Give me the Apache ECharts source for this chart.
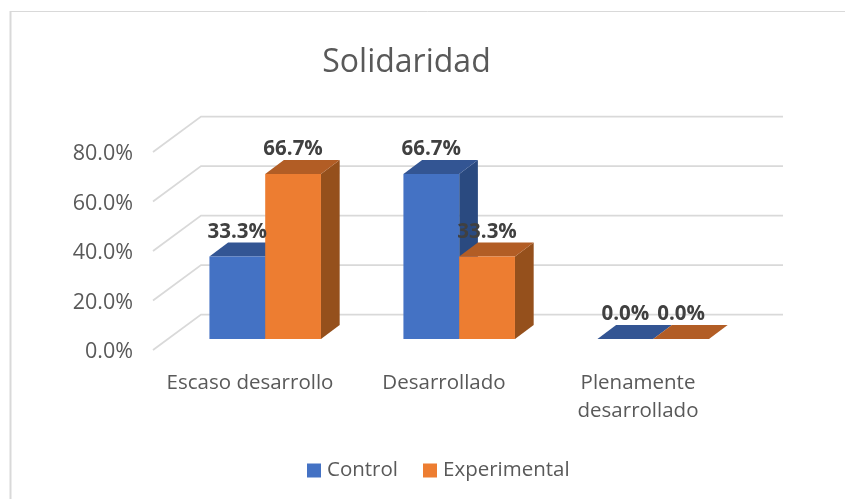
<!DOCTYPE html>
<html>
<head>
<meta charset="utf-8">
<style>html,body{margin:0;padding:0;background:#fff}#c{width:845px;height:499px}</style>
<script src="https://cdn.jsdelivr.net/npm/echarts@6/dist/echarts.min.js"></script>
</head>
<body>
<div id="c"></div>
<script>
const categories = ['Escaso desarrollo', 'Desarrollado', 'Plenamente\ndesarrollado'];
const control = [33.3, 66.7, 0.0];
const experimental = [66.7, 33.3, 0.0];
const ticks = [0, 20, 40, 60, 80];

const FONT = '"Open Sans", sans-serif';
const WALL = [48, -35.5];      // depth of the floor, front edge to back wall
const BAR_FRONT = [15.2, -11]; // bar front face offset from the axis plane
const BAR_DEPTH = [18.7, -14];
const BAR_SHARE = 0.2875;

function barRenderer(side, faces) {
  return function (params, api) {
    const i = api.value(0), v = api.value(1);
    const band = api.size([1, 0])[0];
    const w = band * BAR_SHARE;
    const c = api.coord([i, v]), b = api.coord([i, 0]);
    const x0 = c[0] + BAR_FRONT[0] + (side < 0 ? -w : 0), x1 = x0 + w;
    const yt = c[1] + BAR_FRONT[1], yb = b[1] + BAR_FRONT[1];
    const dx = BAR_DEPTH[0], dy = BAR_DEPTH[1];
    return {
      type: 'group',
      children: [
        { type: 'polygon', z2: 1, shape: { points: [[x1, yb], [x1 + dx, yb + dy], [x1 + dx, yt + dy], [x1, yt]] }, style: { fill: faces.side } },
        { type: 'polygon', z2: 1, shape: { points: [[x0, yt], [x0 + dx, yt + dy], [x1 + dx, yt + dy], [x1, yt]] }, style: { fill: faces.top } },
        { type: 'rect', z2: 2 + (side > 0 ? 1 : 0), shape: { x: x0, y: yt, width: w, height: yb - yt }, style: { fill: faces.front } },
        { type: 'text', z2: 100, x: (x0 + x1) / 2, y: yt - 24.5, style: { text: v.toFixed(1) + '%', fill: '#404040', font: 'bold 20.5px ' + FONT, align: 'center', verticalAlign: 'middle' } }
      ]
    };
  };
}

function gridRenderer(params, api) {
  const y = api.coord([0, api.value(1)])[1];
  const cs = params.coordSys;
  return {
    type: 'polyline',
    shape: { points: [[cs.x, y], [cs.x + WALL[0], y + WALL[1]], [cs.x + cs.width + WALL[0], y + WALL[1]]] },
    style: { fill: 'none', stroke: '#d9d9d9', lineWidth: 1.75 }
  };
}

const chart = echarts.init(document.getElementById('c'), null, { renderer: 'canvas' });
chart.setOption({
  animation: false,
  backgroundColor: '#fff',
  title: {
    text: 'Solidaridad', left: 401.5, top: 42, textAlign: 'center',
    textStyle: { fontFamily: FONT, fontSize: 32, fontWeight: 'normal', color: '#595959' }
  },
  legend: {
    data: ['Control', 'Experimental'], left: 302, top: 455, icon: 'rect',
    itemWidth: 14, itemHeight: 14, itemGap: 25,
    textStyle: { fontFamily: FONT, fontSize: 20.5, color: '#595959', padding: [0, 0, 0, 1] }
  },
  graphic: [
    { type: 'line', silent: true, shape: { x1: 10.5, y1: 11.5, x2: 845, y2: 11.5 }, style: { stroke: '#d9d9d9', lineWidth: 1 } },
    { type: 'line', silent: true, shape: { x1: 10.5, y1: 11, x2: 10.5, y2: 499 }, style: { stroke: '#d9d9d9', lineWidth: 2 } }
  ],
  grid: { left: 153, top: 152, width: 582, height: 198 },
  xAxis: {
    type: 'category', data: categories,
    axisLine: { show: false }, axisTick: { show: false },
    axisLabel: { fontFamily: FONT, fontSize: 20.5, color: '#595959', margin: 19, lineHeight: 28, interval: 0 }
  },
  yAxis: {
    type: 'value', min: 0, max: 80, interval: 20,
    splitLine: { show: false }, axisLine: { show: false }, axisTick: { show: false },
    axisLabel: {
      margin: 20,
      formatter: v => '{t|' + v.toFixed(1) + '%}',
      rich: { t: { fontFamily: FONT, fontSize: 21.5, color: '#595959', padding: [4, 0, 0, 0] } }
    }
  },
  series: [
    { type: 'custom', name: 'grid', z: 1, silent: true, clip: false, renderItem: gridRenderer, encode: { x: 0, y: 1 }, data: ticks.map(v => [0, v]) },
    { type: 'custom', name: 'Control', z: 2, clip: false, itemStyle: { color: '#4472C4' }, encode: { x: 0, y: 1 },
      renderItem: barRenderer(-1, { front: '#4472C4', top: '#335593', side: '#2A4A80' }), data: control.map((v, i) => [i, v]) },
    { type: 'custom', name: 'Experimental', z: 2, clip: false, itemStyle: { color: '#ED7D31' }, encode: { x: 0, y: 1 },
      renderItem: barRenderer(1, { front: '#ED7D31', top: '#B25D25', side: '#95501C' }), data: experimental.map((v, i) => [i, v]) }
  ]
});
</script>
</body>
</html>
